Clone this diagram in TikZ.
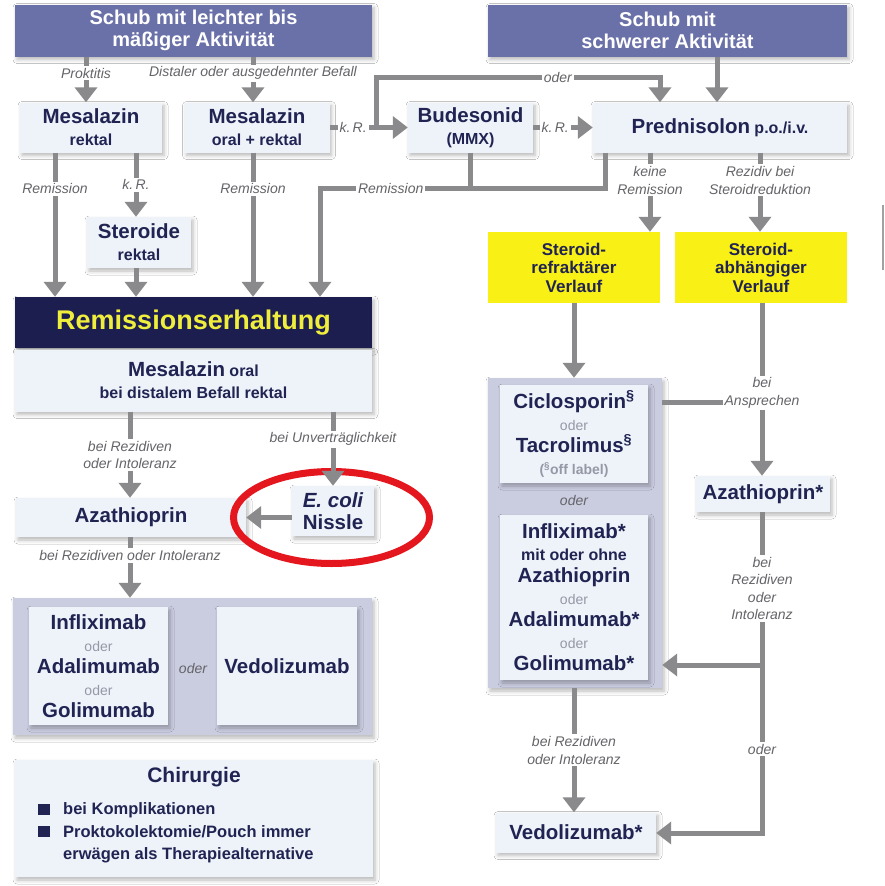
\documentclass[tikz,border=0pt]{standalone}
\usepackage{fontspec}
\setmainfont{Liberation Sans}
\usepackage{xcolor}
\definecolor{hdrblue}{RGB}{106,112,168}
\definecolor{navy}{RGB}{33,36,82}
\definecolor{remnavy}{RGB}{28,30,80}
\definecolor{remyellow}{RGB}{240,238,60}
\definecolor{boxfill}{RGB}{238,243,250}
\definecolor{grpfill}{RGB}{202,204,224}
\definecolor{yelfill}{RGB}{249,240,22}
\definecolor{arrgray}{RGB}{138,138,140}
\definecolor{lblgray}{RGB}{100,100,105}
\definecolor{odergray}{RGB}{150,152,165}
\definecolor{ringred}{RGB}{228,22,30}
\usepackage{tikz}
\usetikzlibrary{arrows.meta,positioning,shapes.geometric,shadows.blur}
\newcommand{\bname}[1]{{\fontsize{20.5}{22}\selectfont #1}}
\newcommand{\odr}{{\fontsize{14}{22}\selectfont\mdseries\color{odergray}oder}}
\tikzset{
   softshadow/.style={blur shadow={shadow xshift=2pt, shadow yshift=-3pt, shadow blur radius=4pt, shadow opacity=28}}
}
\tikzstyle{hdr} = [fill=hdrblue, text=white, align=center, inner sep=0pt,
    font=\bfseries\fontsize{20}{22.5}\selectfont, softshadow]
\tikzstyle{medbox} = [fill=boxfill, text=navy, align=center, inner sep=0pt,
    font=\bfseries\fontsize{16}{22}\selectfont, softshadow]
\tikzstyle{yelbox} = [fill=yelfill, text=navy, align=center, inner sep=0pt,
    font=\bfseries\fontsize{17}{18.5}\selectfont]
\tikzstyle{grpbox} = [fill=grpfill, inner sep=0pt, softshadow]
\tikzstyle{conn} = [arrgray, line width=5pt, -{Triangle[width=22pt,length=15pt]}]
\tikzstyle{pline} = [arrgray, line width=5pt]
\tikzstyle{lbl} = [fill=white, text=lblgray, align=center, inner sep=2pt,
    font=\itshape\fontsize{14}{17.5}\selectfont]
\tikzstyle{oderlbl} = [text=lblgray, font=\itshape\fontsize{14}{16}\selectfont]

\begin{document}
\begin{tikzpicture}[x=1pt,y=-1pt]
\useasboundingbox[fill=white] (0,0) rectangle (885,886);

% Schub
\node[hdr, minimum width=357pt, minimum height=52pt] (head1) at (193.5,30.5) {Schub mit leichter bis\\mäßiger Aktivität};
\node[hdr, minimum width=359pt, minimum height=52pt] (head2) at (667.5,30.5) {Schub mit\\schwerer Aktivität};

\node[medbox, minimum width=142pt, minimum height=50pt] (mesrek) at (91,127.5) {\bname{Mesalazin}\\rektal};
\node[medbox, minimum width=145pt, minimum height=50pt] (mesor) at (257,127.5) {\bname{Mesalazin}\\oral + rektal};
\node[medbox, minimum width=125pt, minimum height=50pt] (budes) at (470.5,127.5) {\bname{Budesonid}\\(MMX)};
\node[medbox, minimum width=254pt, minimum height=50pt] (pred) at (720,127.5) {\bname{Prednisolon} p.o./i.v.};
\node[medbox, minimum width=104pt, minimum height=51pt] (ster) at (139,242.5) {\bname{Steroide}\\rektal};

% Remissionserhaltung
\node[fill=remnavy, text=remyellow, font=\bfseries\fontsize{27}{28}\selectfont, inner sep=0pt,
      minimum width=357pt, minimum height=51pt, softshadow] (rem) at (193.5,322.5) {Remissionserhaltung};
\node[medbox, minimum width=357pt, minimum height=62pt] (remmes) at (193.5,380.5) {\bname{Mesalazin} oral\\bei distalem Befall rektal};
\node[medbox, minimum width=230pt, minimum height=39pt] (aza1) at (131,517.5) {\bname{Azathioprin}};
\node[medbox, minimum width=82pt, minimum height=50pt] (ecoli) at (333,511) {\bname{\itshape E. coli}\\\bname{Nissle}};
\node[ellipse, draw=ringred, line width=7pt, minimum width=196pt, minimum height=92pt, inner sep=0pt] (ring) at (331.5,517.5) {};

\node[grpbox, minimum width=359pt, minimum height=137pt] (grpl) at (192.5,666.5) {};
\node[medbox, minimum width=139pt, minimum height=118pt] (biol) at (98.5,666) {\bname{Infliximab}\\\odr\\\bname{Adalimumab}\\\odr\\\bname{Golimumab}};
\node[medbox, minimum width=140pt, minimum height=118pt] (vedl) at (287,666) {\bname{Vedolizumab}};
\node[oderlbl] (oderl) at (193,668) {oder};

\node[medbox, minimum width=358pt, minimum height=117pt] (chir) at (194,818.5) {};
\node[text=navy, font=\bfseries\fontsize{21}{22}\selectfont, below=4pt of chir.north] (chirt) {Chirurgie};
\node[text=navy, font=\bfseries\fontsize{16.5}{22.5}\selectfont, align=left, anchor=west, inner sep=0pt] (chirl) at (38,833)
  {\rule{12pt}{11pt}\hspace{13pt}bei Komplikationen\\
   \rule{12pt}{11pt}\hspace{13pt}Proktokolektomie/Pouch immer\\
   \hspace*{25pt}erwägen als Therapiealternative};

% schwerer Verlauf
\node[yelbox, minimum width=172pt, minimum height=71pt] (refr) at (574,267.5) {Steroid-\\refraktärer\\Verlauf};
\node[yelbox, minimum width=172pt, minimum height=71pt] (abh) at (761,267.5) {Steroid-\\abhängiger\\Verlauf};

\node[grpbox, minimum width=174pt, minimum height=310pt] (grpr) at (575,533) {};
\node[medbox, minimum width=148pt, minimum height=98pt] (cicl) at (574,434)
  {\bname{Ciclosporin\textsuperscript{§}}\\\odr\\\bname{Tacrolimus\textsuperscript{§}}\\{\fontsize{14}{22}\selectfont\color{odergray}(\textsuperscript{§}off label)}};
\node[oderlbl] (oderr) at (574,500) {oder};
\node[medbox, minimum width=148pt, minimum height=165pt] (infr) at (574,597.5)
  {\bname{Infliximab*}\\mit oder ohne\\\bname{Azathioprin}\\\odr\\\bname{Adalimumab*}\\\odr\\\bname{Golimumab*}};
\node[medbox, minimum width=134pt, minimum height=36pt] (aza2) at (763,494) {\bname{Azathioprin*}};
\node[medbox, minimum width=160pt, minimum height=40pt] (vedr) at (576,832.5) {\bname{Vedolizumab*}};

\coordinate (xa) at (55,0);
\coordinate (xb) at (136,0);
\coordinate (xc) at (253,0);
\coordinate (xp) at (86,0);
\coordinate (xg) at (605,0);
\coordinate (xi) at (717,0);
\coordinate (xk) at (650,0);
\coordinate (xl) at (760,0);
\coordinate (xn) at (130,0);
\coordinate (kbr) at (376,127.5);
\coordinate (oderc) at (660,77);
\coordinate (remj) at (320,188);
\coordinate (ansp) at (762,402);
\coordinate (golj) at (762,665);
\coordinate (vedj) at (762,833);

\draw[conn] (head1.south -| xp) -- node[lbl,pos=.36]{Proktitis} (mesrek.north -| xp);
\draw[conn] (head1.south -| xc) -- node[lbl,pos=.36]{Distaler oder ausgedehnter Befall} (mesor.north -| xc);
\draw[conn] (head2.south -| xi) -- (pred.north -| xi);
\draw[conn] (mesrek.south -| xa) -- node[lbl,pos=.25]{Remission} (rem.north -| xa);
\draw[conn] (mesrek.south -| xb) -- node[lbl]{k.\,R.} (ster.north -| xb);
\draw[conn] (ster.south -| xb) -- (rem.north -| xb);
\draw[conn] (mesor.south -| xc) -- node[lbl,pos=.25]{Remission} (rem.north -| xc);
\draw[conn] (mesor.east) -- node[lbl,pos=.3]{k.\,R.} (budes.west);
\draw[conn] (kbr) |- node[lbl,pos=.82]{oder} (oderc) -- (pred.north -| oderc);
\draw[conn] (budes.east) -- node[lbl,pos=.37]{k.\,R.} (pred.west);
\draw[pline] (pred.south -| xg) |- (budes.south |- remj);
\draw[conn] (budes.south) |- node[lbl,pos=.765]{Remission} (remj) -- (rem.north -| remj);

\draw[conn] (pred.south -| xk) -- node[lbl,pos=.35]{keine\\Remission} (refr.north -| xk);
\draw[conn] (pred.south -| xl) -- node[lbl,pos=.35]{Rezidiv bei\\Steroidreduktion} (abh.north -| xl);
\draw[conn] (refr.south) -- (grpr.north -| refr.south);
\draw[pline] (grpr.east |- ansp) -- (ansp);
\draw[conn] (abh.south -| ansp) -- node[lbl,pos=.52]{bei\\Ansprechen} (aza2.north -| ansp);
\draw[conn] (aza2.south -| golj) -- node[lbl]{bei\\Rezidiven\\oder\\Intoleranz} (golj) -- node[lbl]{oder} (vedj) -- (vedr.east |- vedj);
\draw[conn] (golj) -- (golj -| grpr.east);
\draw[conn] (grpr.south -| refr.south) -- node[lbl]{bei Rezidiven\\oder Intoleranz} (vedr.north -| refr.south);

\draw[conn] (remmes.south -| xn) -- node[lbl]{bei Rezidiven\\oder Intoleranz} (aza1.north -| xn);
\draw[conn] (remmes.south -| ecoli) -- node[lbl,pos=.37]{bei Unverträglichkeit} (ecoli.north);
\draw[conn] (ecoli.west |- aza1) -- (aza1.east);
\draw[conn] (aza1.south -| xn) -- node[lbl,pos=.3]{bei Rezidiven oder Intoleranz} (grpl.north -| xn);
%\draw[ringred] (ring.north) -- (ring.south);
\draw[arrgray!80, line width=2.5pt] (883,205) -- (883,270);
\end{tikzpicture}
\end{document}
